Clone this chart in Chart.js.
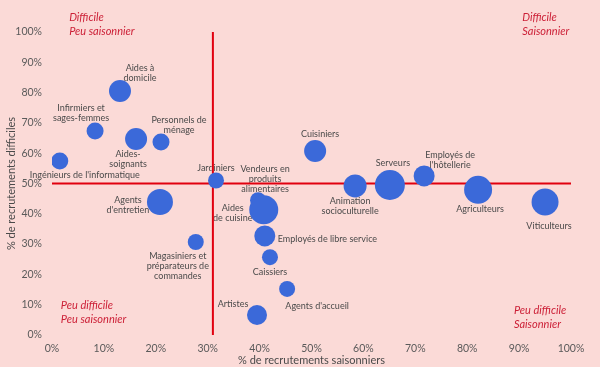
<!DOCTYPE html>
<html>
<head>
<meta charset="utf-8">
<script src="https://cdn.jsdelivr.net/npm/chart.js@4.4.1/dist/chart.umd.min.js"></script>
<style>
  html, body { margin: 0; padding: 0; background: #fbdad7; }
  #wrap { width: 600px; height: 367px; }
</style>
</head>
<body>
<div id="wrap"><canvas id="chart"></canvas></div>
<script>
// Métiers (libellés, retours à la ligne comme sur le graphique)
const metiers = [
  'Aides à\ndomicile',
  'Infirmiers et\nsages-femmes',
  'Aides-\nsoignants',
  'Personnels de\nménage',
  "Ingénieurs de l'informatique",
  'Jardiniers',
  "Agents\nd'entretien",
  'Magasiniers et\npréparateurs de\ncommandes',
  'Vendeurs en\nproduits\nalimentaires',
  'Aides\nde cuisine',
  'Employés de libre service',
  'Caissiers',
  "Agents d'accueil",
  'Artistes',
  'Cuisiniers',
  'Animation\nsocioculturelle',
  'Serveurs',
  "Employés de\nl'hôtellerie",
  'Agriculteurs',
  'Viticulteurs',
];
// % de recrutements saisonniers
const saisonniers = [13.1, 8.3, 16.2, 21.0, 1.5, 31.6, 20.8, 27.7, 39.7, 40.8, 41.0, 42.0, 45.3, 39.5, 50.7, 58.4, 65.1, 71.7, 82.1, 95.0];
// % de recrutements difficiles
const difficiles = [80.5, 67.3, 64.7, 63.7, 57.4, 51.0, 43.9, 30.7, 44.5, 41.3, 32.7, 25.7, 15.2, 6.6, 60.7, 49.2, 49.5, 52.5, 47.9, 43.9];
// taille des bulles (volume de recrutements, en rayon)
const volumes = [11, 8.5, 11, 8.5, 8.5, 8, 13, 8, 8, 14.5, 10.5, 8, 8, 10, 11, 11.5, 15, 10.5, 14, 13.5];

const seuilSaison = 31;
const seuilDifficile = 50;

// placement des étiquettes autour des bulles: [dx, dy première ligne, alignement]
const labelPos = [
  [20, -23, 'center'], [-14, -23, 'center'], [-8, 15, 'center'], [18, -22, 'center'],
  [25, 14, 'center'], [0, -12, 'center'], [-32, -2, 'center'], [-18, 14, 'center'],
  [7, -31, 'center'], [-31, -2, 'center'], [13, 3, 'left'], [0, 15, 'center'],
  [30, 17, 'center'], [-24, -11, 'center'], [5, -17, 'center'], [-5, 15, 'center'],
  [3, -22, 'center'], [26, -21, 'center'], [2, 19, 'center'], [4, 24, 'center'],
];

const quadrants = [
  { x: 3.3, y: 104.8, lines: ['Difficile', 'Peu saisonnier'] },
  { x: 90.6, y: 104.8, lines: ['Difficile', 'Saisonnier'] },
  { x: 1.7, y: 9.6, lines: ['Peu difficile', 'Peu saisonnier'] },
  { x: 89.0, y: 8.2, lines: ['Peu difficile', 'Saisonnier'] },
];

const RED = '#e1000f';
const BLUE = '#3b69d9';
const FONT = 'Lato, "Open Sans", sans-serif';

const overlay = {
  id: 'overlay',
  beforeDatasetsDraw(chart) {
    const { ctx, scales: { x, y } } = chart;
    const meta = chart.getDatasetMeta(0);
    ctx.save();
    // étiquettes des métiers
    ctx.fillStyle = '#4a4a4a';
    ctx.font = `9px ${FONT}`;
    ctx.textBaseline = 'middle';
    meta.data.forEach((pt, i) => {
      const [dx, dy, align] = labelPos[i];
      ctx.textAlign = align;
      metiers[i].split('\n').forEach((line, k) => {
        ctx.fillText(line, pt.x + dx, pt.y + dy + k * 10);
      });
    });
    // seuils
    ctx.strokeStyle = RED;
    ctx.lineWidth = 2;
    ctx.beginPath();
    ctx.moveTo(x.getPixelForValue(seuilSaison), y.getPixelForValue(100));
    ctx.lineTo(x.getPixelForValue(seuilSaison), y.getPixelForValue(0));
    ctx.moveTo(x.getPixelForValue(0), y.getPixelForValue(seuilDifficile));
    ctx.lineTo(x.getPixelForValue(100), y.getPixelForValue(seuilDifficile));
    ctx.stroke();
    // quadrants
    ctx.fillStyle = '#cc1f36';
    ctx.font = `italic 11px ${FONT}`;
    ctx.textAlign = 'left';
    quadrants.forEach((q) => {
      q.lines.forEach((line, k) => {
        ctx.fillText(line, x.getPixelForValue(q.x), y.getPixelForValue(q.y) + k * 14);
      });
    });
    ctx.restore();
  },
};

new Chart(document.getElementById('chart'), {
  type: 'bubble',
  data: {
    datasets: [{
      data: saisonniers.map((v, i) => ({ x: v, y: difficiles[i], r: volumes[i] })),
      backgroundColor: BLUE,
      borderWidth: 0,
      hoverRadius: 0,
    }],
  },
  options: {
    responsive: true, maintainAspectRatio: false,
    animation: false,
    layout: { padding: { top: 32, right: 29, bottom: 0, left: 0 } },
    plugins: { legend: { display: false }, tooltip: { enabled: false } },
    scales: {
      x: {
        min: 0, max: 100,
        grid: { display: false, drawTicks: false },
        border: { display: false },
        ticks: { stepSize: 10, padding: 7, color: '#5a5a5a', font: { family: FONT, size: 10.5 }, callback: (v) => v + '%' },
        title: { display: true, text: '% de recrutements saisonniers', color: '#4a4a4a', font: { family: FONT, size: 11 }, padding: { top: 2, bottom: 0 } },
        afterFit: (s) => { s.height = 32; },
      },
      y: {
        min: 0, max: 100,
        grid: { display: false, drawTicks: false },
        border: { display: false },
        ticks: { stepSize: 10, padding: 10, color: '#5a5a5a', font: { family: FONT, size: 10.5 }, callback: (v) => v + '%' },
        title: { display: true, text: '% de recrutements difficiles', color: '#4a4a4a', font: { family: FONT, size: 11 }, padding: { top: 5, bottom: 0 } },
        afterFit: (s) => { s.width = 52; },
      },
    },
  },
  plugins: [overlay],
});
</script>
</body>
</html>
